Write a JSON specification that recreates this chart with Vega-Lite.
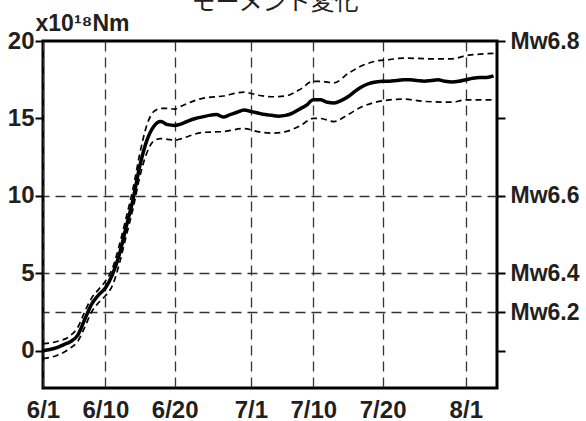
{
  "$schema": "https://vega.github.io/schema/vega-lite/v6.json",
  "autosize": {"type": "none"},
  "width": 454,
  "height": 347,
  "padding": {"left": 43, "top": 41, "right": 89, "bottom": 33},
  "background": "white",
  "title": {
    "text": "モーメント変化",
    "font": "Noto Sans CJK JP",
    "fontSize": 24,
    "fontWeight": "normal",
    "color": "#231f20",
    "anchor": "middle",
    "frame": "group",
    "baseline": "bottom",
    "offset": -27,
    "dx": 5
  },
  "config": {
    "view": {"stroke": "black", "strokeWidth": 3},
    "axis": {
      "labelFont": "Liberation Sans",
      "labelFontWeight": "bold",
      "labelFontSize": 24,
      "labelColor": "#231f20",
      "titleFont": "Liberation Sans",
      "titleFontWeight": "bold",
      "titleColor": "#231f20",
      "domain": false,
      "tickColor": "black",
      "tickWidth": 2,
      "gridColor": "#333333",
      "gridWidth": 1.3,
      "gridDash": [10, 6]
    }
  },
  "data": {
    "values": [
      {"date": "2024-06-01", "series": "M0", "value": 0.0},
      {"date": "2024-06-02", "series": "M0", "value": 0.08},
      {"date": "2024-06-03", "series": "M0", "value": 0.2},
      {"date": "2024-06-04", "series": "M0", "value": 0.4},
      {"date": "2024-06-05", "series": "M0", "value": 0.6},
      {"date": "2024-06-06", "series": "M0", "value": 1.0},
      {"date": "2024-06-07", "series": "M0", "value": 2.0},
      {"date": "2024-06-08", "series": "M0", "value": 3.0},
      {"date": "2024-06-09", "series": "M0", "value": 3.6},
      {"date": "2024-06-10", "series": "M0", "value": 4.05},
      {"date": "2024-06-11", "series": "M0", "value": 4.9},
      {"date": "2024-06-12", "series": "M0", "value": 6.2},
      {"date": "2024-06-13", "series": "M0", "value": 8.0},
      {"date": "2024-06-14", "series": "M0", "value": 9.8},
      {"date": "2024-06-15", "series": "M0", "value": 12.0},
      {"date": "2024-06-16", "series": "M0", "value": 13.6},
      {"date": "2024-06-17", "series": "M0", "value": 14.5},
      {"date": "2024-06-18", "series": "M0", "value": 14.8},
      {"date": "2024-06-19", "series": "M0", "value": 14.6},
      {"date": "2024-06-20", "series": "M0", "value": 14.55},
      {"date": "2024-06-21", "series": "M0", "value": 14.65},
      {"date": "2024-06-22", "series": "M0", "value": 14.85},
      {"date": "2024-06-23", "series": "M0", "value": 15.0},
      {"date": "2024-06-24", "series": "M0", "value": 15.1},
      {"date": "2024-06-25", "series": "M0", "value": 15.2},
      {"date": "2024-06-26", "series": "M0", "value": 15.25},
      {"date": "2024-06-27", "series": "M0", "value": 15.1},
      {"date": "2024-06-28", "series": "M0", "value": 15.25},
      {"date": "2024-06-29", "series": "M0", "value": 15.4},
      {"date": "2024-06-30", "series": "M0", "value": 15.55},
      {"date": "2024-07-01", "series": "M0", "value": 15.45},
      {"date": "2024-07-02", "series": "M0", "value": 15.35},
      {"date": "2024-07-03", "series": "M0", "value": 15.25},
      {"date": "2024-07-04", "series": "M0", "value": 15.2},
      {"date": "2024-07-05", "series": "M0", "value": 15.15},
      {"date": "2024-07-06", "series": "M0", "value": 15.2},
      {"date": "2024-07-07", "series": "M0", "value": 15.35},
      {"date": "2024-07-08", "series": "M0", "value": 15.6},
      {"date": "2024-07-09", "series": "M0", "value": 15.85},
      {"date": "2024-07-10", "series": "M0", "value": 16.2},
      {"date": "2024-07-11", "series": "M0", "value": 16.2},
      {"date": "2024-07-12", "series": "M0", "value": 16.05},
      {"date": "2024-07-13", "series": "M0", "value": 16.0},
      {"date": "2024-07-14", "series": "M0", "value": 16.15},
      {"date": "2024-07-15", "series": "M0", "value": 16.4},
      {"date": "2024-07-16", "series": "M0", "value": 16.75},
      {"date": "2024-07-17", "series": "M0", "value": 17.05},
      {"date": "2024-07-18", "series": "M0", "value": 17.25},
      {"date": "2024-07-19", "series": "M0", "value": 17.35},
      {"date": "2024-07-20", "series": "M0", "value": 17.4},
      {"date": "2024-07-21", "series": "M0", "value": 17.4},
      {"date": "2024-07-22", "series": "M0", "value": 17.45},
      {"date": "2024-07-23", "series": "M0", "value": 17.5},
      {"date": "2024-07-24", "series": "M0", "value": 17.5},
      {"date": "2024-07-25", "series": "M0", "value": 17.45},
      {"date": "2024-07-26", "series": "M0", "value": 17.4},
      {"date": "2024-07-27", "series": "M0", "value": 17.45},
      {"date": "2024-07-28", "series": "M0", "value": 17.5},
      {"date": "2024-07-29", "series": "M0", "value": 17.4},
      {"date": "2024-07-30", "series": "M0", "value": 17.35},
      {"date": "2024-07-31", "series": "M0", "value": 17.4},
      {"date": "2024-08-01", "series": "M0", "value": 17.5},
      {"date": "2024-08-02", "series": "M0", "value": 17.6},
      {"date": "2024-08-03", "series": "M0", "value": 17.65},
      {"date": "2024-08-04", "series": "M0", "value": 17.65},
      {"date": "2024-08-05", "series": "M0", "value": 17.75},

      {"date": "2024-06-01", "series": "upper", "value": 0.45},
      {"date": "2024-06-03", "series": "upper", "value": 0.6},
      {"date": "2024-06-05", "series": "upper", "value": 1.0},
      {"date": "2024-06-06", "series": "upper", "value": 1.5},
      {"date": "2024-06-07", "series": "upper", "value": 2.5},
      {"date": "2024-06-08", "series": "upper", "value": 3.4},
      {"date": "2024-06-09", "series": "upper", "value": 3.95},
      {"date": "2024-06-10", "series": "upper", "value": 4.5},
      {"date": "2024-06-11", "series": "upper", "value": 5.3},
      {"date": "2024-06-12", "series": "upper", "value": 6.8},
      {"date": "2024-06-13", "series": "upper", "value": 8.6},
      {"date": "2024-06-14", "series": "upper", "value": 10.5},
      {"date": "2024-06-15", "series": "upper", "value": 12.8},
      {"date": "2024-06-16", "series": "upper", "value": 14.6},
      {"date": "2024-06-17", "series": "upper", "value": 15.45},
      {"date": "2024-06-18", "series": "upper", "value": 15.65},
      {"date": "2024-06-19", "series": "upper", "value": 15.65},
      {"date": "2024-06-20", "series": "upper", "value": 15.6},
      {"date": "2024-06-21", "series": "upper", "value": 15.8},
      {"date": "2024-06-22", "series": "upper", "value": 16.0},
      {"date": "2024-06-24", "series": "upper", "value": 16.3},
      {"date": "2024-06-27", "series": "upper", "value": 16.45},
      {"date": "2024-06-30", "series": "upper", "value": 16.7},
      {"date": "2024-07-02", "series": "upper", "value": 16.5},
      {"date": "2024-07-04", "series": "upper", "value": 16.4},
      {"date": "2024-07-06", "series": "upper", "value": 16.45},
      {"date": "2024-07-08", "series": "upper", "value": 16.85},
      {"date": "2024-07-10", "series": "upper", "value": 17.4},
      {"date": "2024-07-11", "series": "upper", "value": 17.4},
      {"date": "2024-07-13", "series": "upper", "value": 17.3},
      {"date": "2024-07-15", "series": "upper", "value": 17.9},
      {"date": "2024-07-17", "series": "upper", "value": 18.4},
      {"date": "2024-07-19", "series": "upper", "value": 18.7},
      {"date": "2024-07-21", "series": "upper", "value": 18.8},
      {"date": "2024-07-23", "series": "upper", "value": 18.9},
      {"date": "2024-07-27", "series": "upper", "value": 18.85},
      {"date": "2024-07-30", "series": "upper", "value": 18.85},
      {"date": "2024-08-01", "series": "upper", "value": 19.05},
      {"date": "2024-08-05", "series": "upper", "value": 19.2},

      {"date": "2024-06-01", "series": "lower", "value": -0.5},
      {"date": "2024-06-03", "series": "lower", "value": -0.3},
      {"date": "2024-06-05", "series": "lower", "value": 0.2},
      {"date": "2024-06-06", "series": "lower", "value": 0.6},
      {"date": "2024-06-07", "series": "lower", "value": 1.5},
      {"date": "2024-06-08", "series": "lower", "value": 2.5},
      {"date": "2024-06-09", "series": "lower", "value": 3.1},
      {"date": "2024-06-10", "series": "lower", "value": 3.55},
      {"date": "2024-06-11", "series": "lower", "value": 4.2},
      {"date": "2024-06-12", "series": "lower", "value": 5.6},
      {"date": "2024-06-13", "series": "lower", "value": 7.4},
      {"date": "2024-06-14", "series": "lower", "value": 9.2},
      {"date": "2024-06-15", "series": "lower", "value": 11.3},
      {"date": "2024-06-16", "series": "lower", "value": 12.8},
      {"date": "2024-06-17", "series": "lower", "value": 13.55},
      {"date": "2024-06-18", "series": "lower", "value": 13.7},
      {"date": "2024-06-19", "series": "lower", "value": 13.65},
      {"date": "2024-06-20", "series": "lower", "value": 13.6},
      {"date": "2024-06-21", "series": "lower", "value": 13.7},
      {"date": "2024-06-22", "series": "lower", "value": 13.85},
      {"date": "2024-06-24", "series": "lower", "value": 14.1},
      {"date": "2024-06-27", "series": "lower", "value": 14.15},
      {"date": "2024-06-30", "series": "lower", "value": 14.35},
      {"date": "2024-07-02", "series": "lower", "value": 14.15},
      {"date": "2024-07-04", "series": "lower", "value": 14.05},
      {"date": "2024-07-06", "series": "lower", "value": 14.15},
      {"date": "2024-07-08", "series": "lower", "value": 14.5},
      {"date": "2024-07-10", "series": "lower", "value": 15.0},
      {"date": "2024-07-11", "series": "lower", "value": 15.0},
      {"date": "2024-07-13", "series": "lower", "value": 14.8},
      {"date": "2024-07-15", "series": "lower", "value": 15.25},
      {"date": "2024-07-17", "series": "lower", "value": 15.75},
      {"date": "2024-07-19", "series": "lower", "value": 16.05},
      {"date": "2024-07-21", "series": "lower", "value": 16.2},
      {"date": "2024-07-23", "series": "lower", "value": 16.25},
      {"date": "2024-07-26", "series": "lower", "value": 16.1},
      {"date": "2024-07-30", "series": "lower", "value": 16.05},
      {"date": "2024-08-01", "series": "lower", "value": 16.2},
      {"date": "2024-08-05", "series": "lower", "value": 16.2}
    ]
  },
  "encoding": {
    "x": {
      "field": "date",
      "type": "temporal",
      "scale": {
        "type": "utc",
        "domain": [
          {"year": 2024, "month": 6, "date": 1, "utc": true},
          {"year": 2024, "month": 8, "date": 5, "hours": 12, "utc": true}
        ]
      },
      "axis": {
        "title": null,
        "orient": "bottom",
        "values": [
          {"year": 2024, "month": 6, "date": 1, "utc": true},
          {"year": 2024, "month": 6, "date": 10, "utc": true},
          {"year": 2024, "month": 6, "date": 20, "utc": true},
          {"year": 2024, "month": 7, "date": 1, "utc": true},
          {"year": 2024, "month": 7, "date": 10, "utc": true},
          {"year": 2024, "month": 7, "date": 20, "utc": true},
          {"year": 2024, "month": 8, "date": 1, "utc": true}
        ],
        "labelExpr": "utcFormat(datum.value, '%-m/%-d')",
        "labelOverlap": false,
        "ticks": false,
        "labelPadding": 10,
        "grid": true,
        "labelFlush": false
      }
    }
  },
  "layer": [
    {
      "transform": [{"filter": "datum.series != 'M0'"}],
      "mark": {"type": "line", "color": "black", "strokeWidth": 1.7, "strokeDash": [6, 4], "interpolate": "monotone"},
      "encoding": {
        "detail": {"field": "series"},
        "y": {
          "field": "value",
          "type": "quantitative",
          "scale": {"domain": [-2.4, 20], "nice": false, "zero": false},
          "axis": {
            "orient": "left",
            "values": [0, 5, 10, 15, 20],
            "grid": false,
            "tickSize": 8,
            "labelPadding": 1,
            "title": "x10¹⁸Nm",
            "titleAngle": 0,
            "titleFontSize": 23,
            "titleAlign": "center",
            "titleBaseline": "alphabetic",
            "titleX": 39,
            "titleY": -11
          }
        }
      }
    },
    {
      "transform": [{"filter": "datum.series == 'M0'"}],
      "mark": {"type": "line", "color": "black", "strokeWidth": 3.5, "interpolate": "monotone"},
      "encoding": {
        "y": {
          "field": "value",
          "type": "quantitative",
          "scale": {"domain": [-2.4, 20], "nice": false, "zero": false},
          "axis": {
            "orient": "right",
            "title": null,
            "values": [0, 2.5, 5, 10, 15, 20],
            "labelExpr": "datum.value == 20 ? 'Mw6.8' : datum.value == 10 ? 'Mw6.6' : datum.value == 5 ? 'Mw6.4' : datum.value == 2.5 ? 'Mw6.2' : ''",
            "labelFontSize": 23,
            "tickSize": 8,
            "labelPadding": 5,
            "grid": true,
            "gridOpacity": {"condition": {"test": "datum.value == 0 || datum.value == 15 || datum.value == 20", "value": 0}, "value": 1}
          }
        }
      }
    }
  ],
  "resolve": {"axis": {"y": "independent"}}
}
